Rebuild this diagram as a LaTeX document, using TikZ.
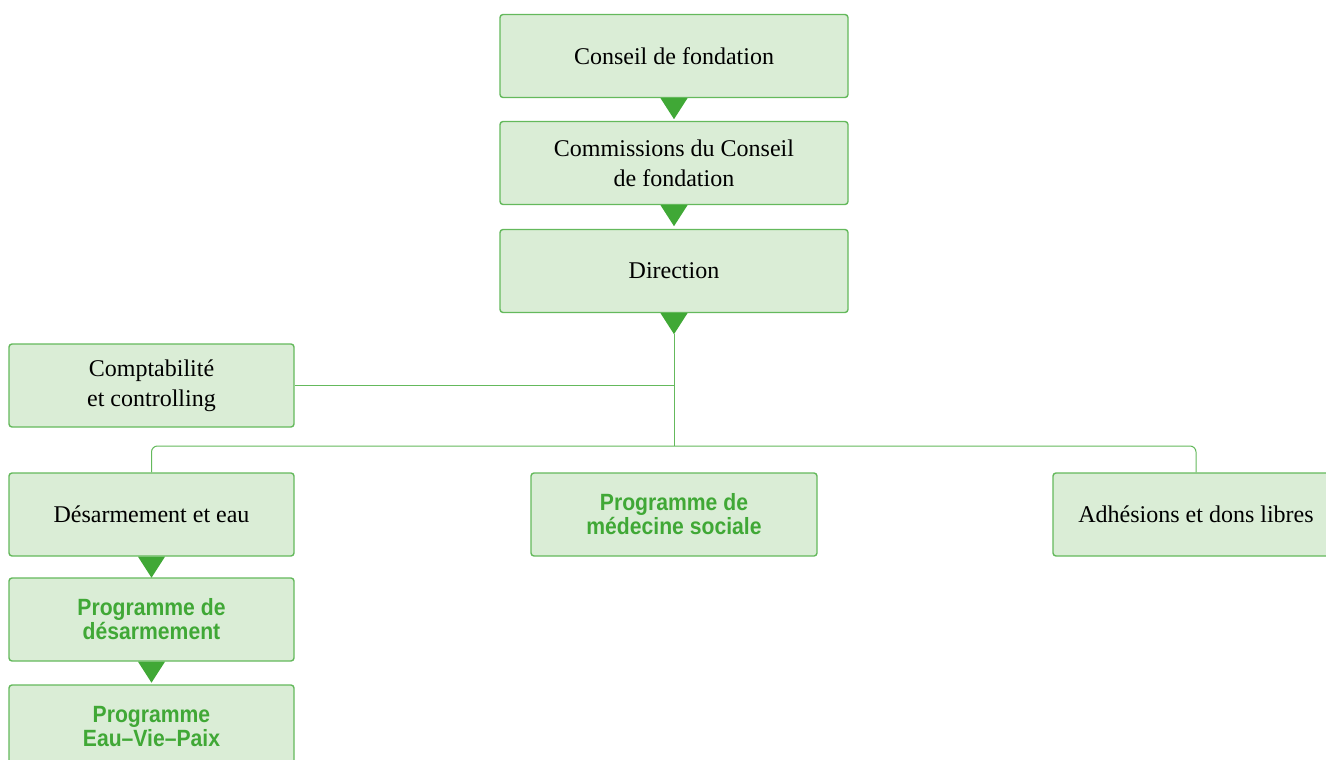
\documentclass[tikz,border=0pt]{standalone}
\usepackage{fontspec}
\setmainfont{Liberation Serif}
\newfontfamily\greenfont[FakeStretch=0.9]{Liberation Sans}
\usetikzlibrary{calc}
\definecolor{boxfill}{RGB}{218,237,214}
\definecolor{boxline}{RGB}{100,185,92}
\definecolor{darkgreen}{RGB}{64,168,54}
\tikzset{
  orgbox/.style={draw=boxline, fill=boxfill, line width=1.4pt, rounded corners=3pt,
    minimum height=83pt, inner sep=0pt, align=center,
    font=\fontsize{24}{30}\selectfont},
  widebox/.style={orgbox, minimum width=348pt},
  sidebox/.style={orgbox, minimum width=285pt},
  progtext/.style={text=darkgreen, font=\greenfont\bfseries\fontsize{23.5}{24}\selectfont},
  link/.style={draw=boxline, line width=1pt},
  tri/.style={fill=darkgreen}
}
\newcommand{\downtri}[1]{\fill[tri] ($(#1.south)+(-13.5,0)$) -- ($(#1.south)+(13.5,0)$) -- ($(#1.south)+(0,21)$) -- cycle;}
\begin{document}
\begin{tikzpicture}[x=1pt,y=-1pt]
\useasboundingbox (0,0) rectangle (1326,760);
\node[widebox] (conseil) at (674,56) {Conseil de fondation};
\node[widebox] (comm) at (674,163) {Commissions du Conseil\\de fondation};
\node[widebox] (dir) at (674,271) {Direction};
\node[sidebox] (compta) at (151.5,385.5) {Comptabilité\\et controlling};
\node[sidebox] (desarm) at (151.5,514.5) {Désarmement et eau};
\node[sidebox, progtext] (progdes) at (151.5,619.5) {Programme de\\désarmement};
\node[sidebox, progtext] (eau) at (151.5,726.5) {Programme\\Eau–Vie–Paix};
\node[orgbox, progtext, minimum width=286pt] (med) at (674,514.5) {Programme de\\médecine sociale};
\node[orgbox, minimum width=286pt] (adh) at (1196,514.5) {Adhésions et dons libres};
\coordinate (tip) at ($(dir.south)+(0,21)$);
\coordinate (bus) at (674,446);
\draw[link] (tip) -- (bus);
\draw[link] (compta.east) -- (compta.east -| tip);
\draw[link, rounded corners=6pt] (desarm.north) |- (bus) -| (adh.north);
\downtri{conseil}
\downtri{comm}
\downtri{dir}
\downtri{desarm}
\downtri{progdes}
\end{tikzpicture}
\end{document}
